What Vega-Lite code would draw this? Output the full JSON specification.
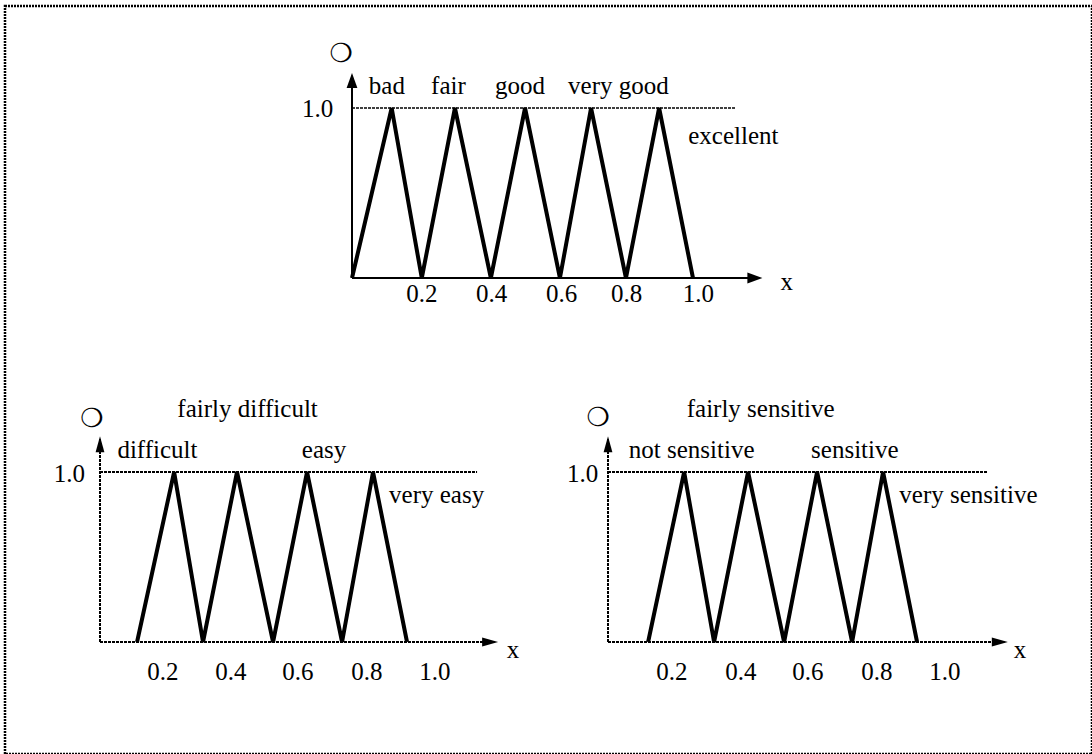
{
  "$schema": "https://vega.github.io/schema/vega-lite/v6.json",
  "width": 1087,
  "height": 748,
  "autosize": {"type": "none"},
  "padding": {"left": 5, "top": 6, "right": 0, "bottom": 0},
  "background": "white",
  "config": {
    "view": {"stroke": "black", "strokeWidth": 2.5, "strokeDash": [2, 1]},
    "text": {"font": "Liberation Serif", "fontSize": 25, "color": "black"}
  },
  "datasets": {
    "curves": [
      {"panel": "top", "i": 0, "x": 0, "y": 0},
      {"panel": "top", "i": 1, "x": 0.116, "y": 1},
      {"panel": "top", "i": 2, "x": 0.204, "y": 0},
      {"panel": "top", "i": 3, "x": 0.301, "y": 1},
      {"panel": "top", "i": 4, "x": 0.406, "y": 0},
      {"panel": "top", "i": 5, "x": 0.506, "y": 1},
      {"panel": "top", "i": 6, "x": 0.608, "y": 0},
      {"panel": "top", "i": 7, "x": 0.699, "y": 1},
      {"panel": "top", "i": 8, "x": 0.801, "y": 0},
      {"panel": "top", "i": 9, "x": 0.898, "y": 1},
      {"panel": "top", "i": 10, "x": 0.997, "y": 0},
      {"panel": "left", "i": 0, "x": 0.109, "y": 0},
      {"panel": "left", "i": 1, "x": 0.218, "y": 1},
      {"panel": "left", "i": 2, "x": 0.303, "y": 0},
      {"panel": "left", "i": 3, "x": 0.403, "y": 1},
      {"panel": "left", "i": 4, "x": 0.509, "y": 0},
      {"panel": "left", "i": 5, "x": 0.609, "y": 1},
      {"panel": "left", "i": 6, "x": 0.712, "y": 0},
      {"panel": "left", "i": 7, "x": 0.803, "y": 1},
      {"panel": "left", "i": 8, "x": 0.903, "y": 0},
      {"panel": "right", "i": 0, "x": 0.118, "y": 0},
      {"panel": "right", "i": 1, "x": 0.224, "y": 1},
      {"panel": "right", "i": 2, "x": 0.312, "y": 0},
      {"panel": "right", "i": 3, "x": 0.412, "y": 1},
      {"panel": "right", "i": 4, "x": 0.518, "y": 0},
      {"panel": "right", "i": 5, "x": 0.615, "y": 1},
      {"panel": "right", "i": 6, "x": 0.718, "y": 0},
      {"panel": "right", "i": 7, "x": 0.809, "y": 1},
      {"panel": "right", "i": 8, "x": 0.909, "y": 0}
    ],
    "lines": [
      {"panel": "top", "kind": "axis", "x": 0, "y": 0, "x2": 1.19, "y2": 0},
      {"panel": "top", "kind": "axis", "x": 0, "y": 0, "x2": 0, "y2": 1.19},
      {"panel": "top", "kind": "guide", "x": 0, "y": 1, "x2": 1.12, "y2": 1},
      {"panel": "left", "kind": "axis", "x": 0, "y": 0, "x2": 1.16, "y2": 0},
      {"panel": "left", "kind": "axis", "x": 0, "y": 0, "x2": 0, "y2": 1.2},
      {"panel": "left", "kind": "guide", "x": 0, "y": 1, "x2": 1.109, "y2": 1},
      {"panel": "right", "kind": "axis", "x": 0, "y": 0, "x2": 1.166, "y2": 0},
      {"panel": "right", "kind": "axis", "x": 0, "y": 0, "x2": 0, "y2": 1.2},
      {"panel": "right", "kind": "guide", "x": 0, "y": 1, "x2": 1.115, "y2": 1}
    ],
    "arrows": [
      {"panel": "top", "dir": "right", "x": 1.2, "y": 0},
      {"panel": "top", "dir": "up", "x": 0, "y": 1.206},
      {"panel": "left", "dir": "right", "x": 1.171, "y": 0},
      {"panel": "left", "dir": "up", "x": 0, "y": 1.21},
      {"panel": "right", "dir": "right", "x": 1.176, "y": 0},
      {"panel": "right", "dir": "up", "x": 0, "y": 1.21}
    ],
    "labels": [
      {"panel": "top", "role": "term", "x": 0.102, "y": 1.082, "text": "bad"},
      {"panel": "top", "role": "term", "x": 0.282, "y": 1.082, "text": "fair"},
      {"panel": "top", "role": "term", "x": 0.491, "y": 1.082, "text": "good"},
      {"panel": "top", "role": "term", "x": 0.779, "y": 1.082, "text": "very good"},
      {"panel": "top", "role": "term", "x": 1.115, "y": 0.791, "text": "excellent"},
      {"panel": "top", "role": "ylab", "x": -0.055, "y": 0.949, "text": "1.0"},
      {"panel": "top", "role": "tick", "x": 0.204, "y": -0.139, "text": "0.2"},
      {"panel": "top", "role": "tick", "x": 0.408, "y": -0.139, "text": "0.4"},
      {"panel": "top", "role": "tick", "x": 0.613, "y": -0.139, "text": "0.6"},
      {"panel": "top", "role": "tick", "x": 0.803, "y": -0.139, "text": "0.8"},
      {"panel": "top", "role": "tick", "x": 1.013, "y": -0.139, "text": "1.0"},
      {"panel": "top", "role": "var", "x": 1.271, "y": -0.071, "text": "x"},
      {"panel": "top", "role": "mu", "x": -0.032, "y": 1.318, "text": "❍"},
      {"panel": "left", "role": "term", "x": 0.434, "y": 1.325, "text": "fairly difficult"},
      {"panel": "left", "role": "term", "x": 0.169, "y": 1.081, "text": "difficult"},
      {"panel": "left", "role": "term", "x": 0.659, "y": 1.081, "text": "easy"},
      {"panel": "left", "role": "term", "x": 0.99, "y": 0.816, "text": "very easy"},
      {"panel": "left", "role": "ylab", "x": -0.044, "y": 0.943, "text": "1.0"},
      {"panel": "left", "role": "tick", "x": 0.185, "y": -0.224, "text": "0.2"},
      {"panel": "left", "role": "tick", "x": 0.385, "y": -0.224, "text": "0.4"},
      {"panel": "left", "role": "tick", "x": 0.582, "y": -0.224, "text": "0.6"},
      {"panel": "left", "role": "tick", "x": 0.785, "y": -0.224, "text": "0.8"},
      {"panel": "left", "role": "tick", "x": 0.985, "y": -0.224, "text": "1.0"},
      {"panel": "left", "role": "var", "x": 1.215, "y": -0.096, "text": "x"},
      {"panel": "left", "role": "mu", "x": -0.024, "y": 1.312, "text": "❍"},
      {"panel": "right", "role": "term", "x": 0.449, "y": 1.325, "text": "fairly sensitive"},
      {"panel": "right", "role": "term", "x": 0.246, "y": 1.081, "text": "not sensitive"},
      {"panel": "right", "role": "term", "x": 0.726, "y": 1.081, "text": "sensitive"},
      {"panel": "right", "role": "term", "x": 1.06, "y": 0.816, "text": "very sensitive"},
      {"panel": "right", "role": "ylab", "x": -0.029, "y": 0.943, "text": "1.0"},
      {"panel": "right", "role": "tick", "x": 0.188, "y": -0.224, "text": "0.2"},
      {"panel": "right", "role": "tick", "x": 0.391, "y": -0.224, "text": "0.4"},
      {"panel": "right", "role": "tick", "x": 0.588, "y": -0.224, "text": "0.6"},
      {"panel": "right", "role": "tick", "x": 0.791, "y": -0.224, "text": "0.8"},
      {"panel": "right", "role": "tick", "x": 0.991, "y": -0.224, "text": "1.0"},
      {"panel": "right", "role": "var", "x": 1.212, "y": -0.096, "text": "x"},
      {"panel": "right", "role": "mu", "x": -0.029, "y": 1.318, "text": "❍"}
    ]
  },
  "layer": [
    {
      "encoding": {
        "x": {"field": "x", "type": "quantitative", "axis": null, "scale": {"domain": [-1.01462, 2.16374], "nice": false, "zero": false}},
        "y": {"field": "y", "type": "quantitative", "axis": null, "scale": {"domain": [-2.8, 1.6], "nice": false, "zero": false}}
      },
      "layer": [
        {
          "data": {"name": "lines"},
          "transform": [{"filter": "datum.panel == 'top' && datum.kind == 'axis'"}],
          "mark": {"type": "rule", "color": "black", "strokeWidth": 2},
          "encoding": {"x2": {"field": "x2"}, "y2": {"field": "y2"}}
        },
        {
          "data": {"name": "lines"},
          "transform": [{"filter": "datum.panel == 'top' && datum.kind == 'guide'"}],
          "mark": {"type": "rule", "color": "black", "strokeWidth": 1.5, "strokeDash": [3, 1]},
          "encoding": {"x2": {"field": "x2"}, "y2": {"field": "y2"}}
        },
        {
          "data": {"name": "curves"},
          "transform": [{"filter": "datum.panel == 'top'"}],
          "mark": {"type": "line", "color": "black", "strokeWidth": 4},
          "encoding": {"order": {"field": "i", "type": "quantitative"}}
        },
        {
          "data": {"name": "arrows"},
          "transform": [{"filter": "datum.panel == 'top' && datum.dir == 'right'"}],
          "mark": {"type": "point", "filled": true, "color": "black", "opacity": 1, "shape": "M0,0L-2,-0.72L-2,0.72Z", "size": 225}
        },
        {
          "data": {"name": "arrows"},
          "transform": [{"filter": "datum.panel == 'top' && datum.dir == 'up'"}],
          "mark": {"type": "point", "filled": true, "color": "black", "opacity": 1, "shape": "M0,0L-0.72,2L0.72,2Z", "size": 225}
        },
        {
          "data": {"name": "labels"},
          "transform": [{"filter": "datum.panel == 'top' && datum.role != 'ylab' && datum.role != 'mu'"}],
          "mark": {"type": "text", "align": "center", "baseline": "alphabetic"},
          "encoding": {"text": {"field": "text", "type": "nominal"}}
        },
        {
          "data": {"name": "labels"},
          "transform": [{"filter": "datum.panel == 'top' && datum.role == 'ylab'"}],
          "mark": {"type": "text", "align": "right", "baseline": "alphabetic"},
          "encoding": {"text": {"field": "text", "type": "nominal"}}
        },
        {
          "data": {"name": "labels"},
          "transform": [{"filter": "datum.panel == 'top' && datum.role == 'mu'"}],
          "mark": {"type": "text", "align": "center", "baseline": "middle", "font": "DejaVu Sans", "fontSize": 26},
          "encoding": {"text": {"field": "text", "type": "nominal"}}
        }
      ]
    },
    {
      "encoding": {
        "x": {"field": "x", "type": "quantitative", "axis": null, "scale": {"domain": [-0.27941, 2.91765], "nice": false, "zero": false}},
        "y": {"field": "y", "type": "quantitative", "axis": null, "scale": {"domain": [-0.65882, 3.74118], "nice": false, "zero": false}}
      },
      "layer": [
        {
          "data": {"name": "lines"},
          "transform": [{"filter": "datum.panel == 'left'"}],
          "mark": {"type": "rule", "color": "black", "strokeWidth": 2, "strokeDash": [3, 1]},
          "encoding": {"x2": {"field": "x2"}, "y2": {"field": "y2"}}
        },
        {
          "data": {"name": "curves"},
          "transform": [{"filter": "datum.panel == 'left'"}],
          "mark": {"type": "line", "color": "black", "strokeWidth": 4},
          "encoding": {"order": {"field": "i", "type": "quantitative"}}
        },
        {
          "data": {"name": "arrows"},
          "transform": [{"filter": "datum.panel == 'left' && datum.dir == 'right'"}],
          "mark": {"type": "point", "filled": true, "color": "black", "opacity": 1, "shape": "M0,0L-2,-0.55L-2,0.55Z", "size": 256}
        },
        {
          "data": {"name": "arrows"},
          "transform": [{"filter": "datum.panel == 'left' && datum.dir == 'up'"}],
          "mark": {"type": "point", "filled": true, "color": "black", "opacity": 1, "shape": "M0,0L-0.55,2L0.55,2Z", "size": 256}
        },
        {
          "data": {"name": "labels"},
          "transform": [{"filter": "datum.panel == 'left' && datum.role != 'ylab' && datum.role != 'mu'"}],
          "mark": {"type": "text", "align": "center", "baseline": "alphabetic"},
          "encoding": {"text": {"field": "text", "type": "nominal"}}
        },
        {
          "data": {"name": "labels"},
          "transform": [{"filter": "datum.panel == 'left' && datum.role == 'ylab'"}],
          "mark": {"type": "text", "align": "right", "baseline": "alphabetic"},
          "encoding": {"text": {"field": "text", "type": "nominal"}}
        },
        {
          "data": {"name": "labels"},
          "transform": [{"filter": "datum.panel == 'left' && datum.role == 'mu'"}],
          "mark": {"type": "text", "align": "center", "baseline": "middle", "font": "DejaVu Sans", "fontSize": 26},
          "encoding": {"text": {"field": "text", "type": "nominal"}}
        }
      ]
    },
    {
      "encoding": {
        "x": {"field": "x", "type": "quantitative", "axis": null, "scale": {"domain": [-1.77353, 1.42353], "nice": false, "zero": false}},
        "y": {"field": "y", "type": "quantitative", "axis": null, "scale": {"domain": [-0.65882, 3.74118], "nice": false, "zero": false}}
      },
      "layer": [
        {
          "data": {"name": "lines"},
          "transform": [{"filter": "datum.panel == 'right'"}],
          "mark": {"type": "rule", "color": "black", "strokeWidth": 2, "strokeDash": [3, 1]},
          "encoding": {"x2": {"field": "x2"}, "y2": {"field": "y2"}}
        },
        {
          "data": {"name": "curves"},
          "transform": [{"filter": "datum.panel == 'right'"}],
          "mark": {"type": "line", "color": "black", "strokeWidth": 4},
          "encoding": {"order": {"field": "i", "type": "quantitative"}}
        },
        {
          "data": {"name": "arrows"},
          "transform": [{"filter": "datum.panel == 'right' && datum.dir == 'right'"}],
          "mark": {"type": "point", "filled": true, "color": "black", "opacity": 1, "shape": "M0,0L-2,-0.55L-2,0.55Z", "size": 256}
        },
        {
          "data": {"name": "arrows"},
          "transform": [{"filter": "datum.panel == 'right' && datum.dir == 'up'"}],
          "mark": {"type": "point", "filled": true, "color": "black", "opacity": 1, "shape": "M0,0L-0.55,2L0.55,2Z", "size": 256}
        },
        {
          "data": {"name": "labels"},
          "transform": [{"filter": "datum.panel == 'right' && datum.role != 'ylab' && datum.role != 'mu'"}],
          "mark": {"type": "text", "align": "center", "baseline": "alphabetic"},
          "encoding": {"text": {"field": "text", "type": "nominal"}}
        },
        {
          "data": {"name": "labels"},
          "transform": [{"filter": "datum.panel == 'right' && datum.role == 'ylab'"}],
          "mark": {"type": "text", "align": "right", "baseline": "alphabetic"},
          "encoding": {"text": {"field": "text", "type": "nominal"}}
        },
        {
          "data": {"name": "labels"},
          "transform": [{"filter": "datum.panel == 'right' && datum.role == 'mu'"}],
          "mark": {"type": "text", "align": "center", "baseline": "middle", "font": "DejaVu Sans", "fontSize": 26},
          "encoding": {"text": {"field": "text", "type": "nominal"}}
        }
      ]
    }
  ],
  "resolve": {"scale": {"x": "independent", "y": "independent"}}
}
